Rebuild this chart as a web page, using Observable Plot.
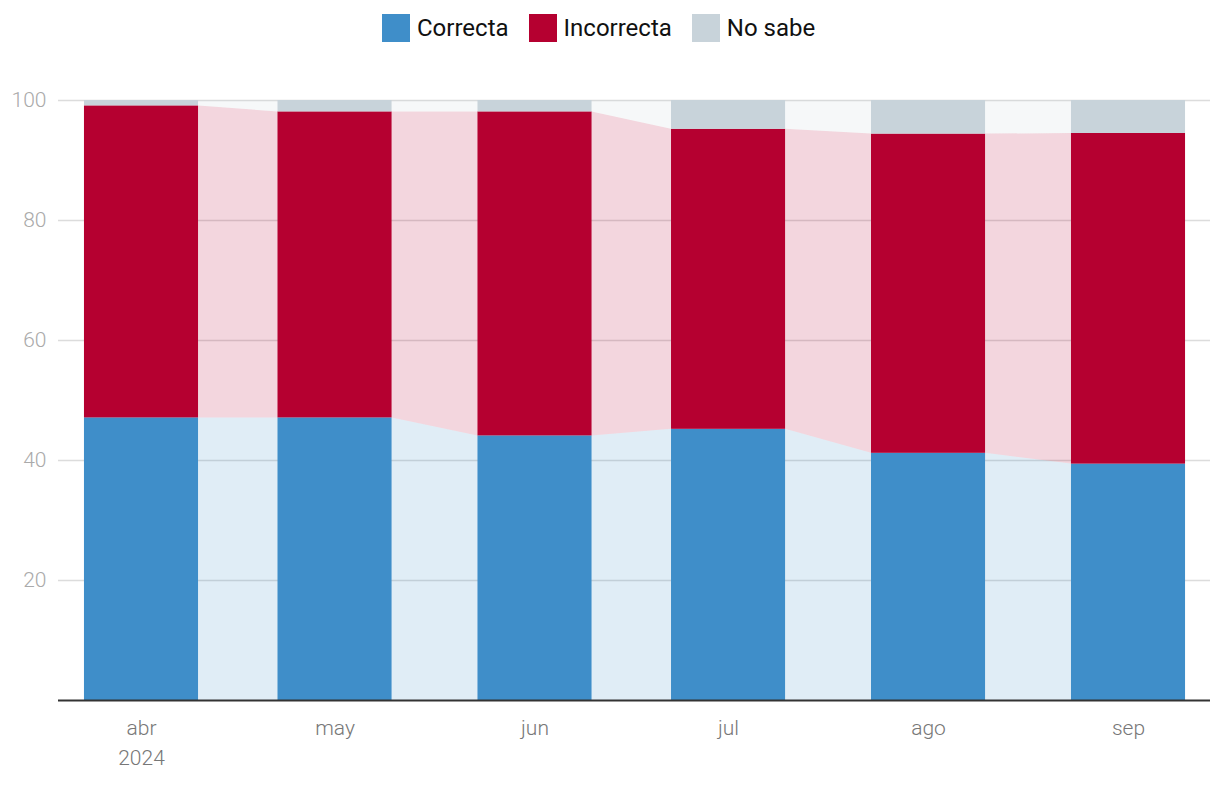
<!DOCTYPE html>
<html>
<head>
<meta charset="utf-8">
<script src="https://cdn.jsdelivr.net/npm/d3@7"></script>
<script src="https://cdn.jsdelivr.net/npm/@observablehq/plot@0.6"></script>
<style>
  html, body { margin: 0; padding: 0; background: #fff; }
  body { width: 1220px; font-family: Roboto, "Noto Sans", sans-serif; }
  #legend { height: 56px; display: flex; align-items: center; padding-left: 382px; box-sizing: border-box; }
  .item { display: flex; align-items: center; margin-right: 20px; font-size: 24px; color: #111; }
  .sw { width: 28px; height: 28px; margin-right: 7px; }
  svg { display: block; }
</style>
</head>
<body>
<div id="legend"></div>
<div id="chart"></div>
<script>
const months = ["2024-04-01", "2024-05-01", "2024-06-01", "2024-07-01", "2024-08-01", "2024-09-01"];
const monthLabels = ["abr\n2024", "may", "jun", "jul", "ago", "sep"];
const categories = ["Correcta", "Incorrecta", "No sabe"];
const correcta = [47.1, 47.1, 44.1, 45.2, 41.2, 39.4];
const incorrecta = [52.0, 51.0, 54.0, 50.0, 53.2, 55.1];
const noSabe = [0.9, 1.9, 1.9, 4.8, 5.6, 5.5];
const yTicks = [20, 40, 60, 80, 100];
const colors = ["#3f8ec9", "#b50030", "#c8d3da"];

const DAY = 864e5;
const halfWidth = 8.84 * DAY;
const dates = months.map(m => new Date(m + "T00:00:00Z"));
const series = [correcta, incorrecta, noSabe];

// stacked records
const rows = [];
dates.forEach((d, i) => {
  let base = 0;
  categories.forEach((c, k) => {
    const v = series[k][i];
    rows.push({date: d, cat: c, y1: base, y2: base + v});
    base += v;
  });
});
// area points at each bar's left and right edge
const areaRows = [];
categories.forEach(c => {
  rows.filter(r => r.cat === c).forEach(r => {
    areaRows.push({x: new Date(+r.date - halfWidth), cat: c, y1: r.y1, y2: r.y2});
    areaRows.push({x: new Date(+r.date + halfWidth), cat: c, y1: r.y1, y2: r.y2});
  });
});

const labelByTime = new Map(dates.map((d, i) => [+d, monthLabels[i]]));

const chart = Plot.plot({
  width: 1220,
  height: 738,
  marginTop: 44,
  marginBottom: 94,
  marginLeft: 58,
  marginRight: 10,
  style: {fontFamily: "Roboto, 'Noto Sans', sans-serif", fontSize: "21px", background: "#fff"},
  x: {type: "utc", domain: [new Date(+dates[0] - 12.866 * DAY), new Date(+dates[5] + 12.71 * DAY)]},
  y: {domain: [0, 100]},
  color: {domain: categories, range: colors},
  marks: [
    Plot.gridY(yTicks, {stroke: "#dcdcdc", strokeOpacity: 1, strokeWidth: 1.5}),
    Plot.area(areaRows, {x1: "x", y1: "y1", y2: "y2", z: "cat", fill: "cat", fillOpacity: 0.16, curve: "linear"}),
    Plot.rect(rows, {x1: d => new Date(+d.date - halfWidth), x2: d => new Date(+d.date + halfWidth), y1: "y1", y2: "y2", fill: "cat"}),
    Plot.ruleY([0], {stroke: "#333", strokeWidth: 2}),
    Plot.axisY({ticks: yTicks, tickSize: 0, tickPadding: 12, color: "#aaa", fontSize: 21, fontWeight: 300, label: null}),
    Plot.axisX({ticks: dates, tickFormat: d => labelByTime.get(+d), tickSize: 0, tickPadding: 14, color: "#777", fontSize: 21, fontWeight: 300, lineHeight: 1.4, label: null})
  ]
});
document.getElementById("chart").appendChild(chart);

const legend = document.getElementById("legend");
categories.forEach((c, k) => {
  const it = document.createElement("div");
  it.className = "item";
  const sw = document.createElement("span");
  sw.className = "sw";
  sw.style.background = colors[k];
  const t = document.createElement("span");
  t.textContent = c;
  it.appendChild(sw);
  it.appendChild(t);
  legend.appendChild(it);
});
</script>
</body>
</html>
